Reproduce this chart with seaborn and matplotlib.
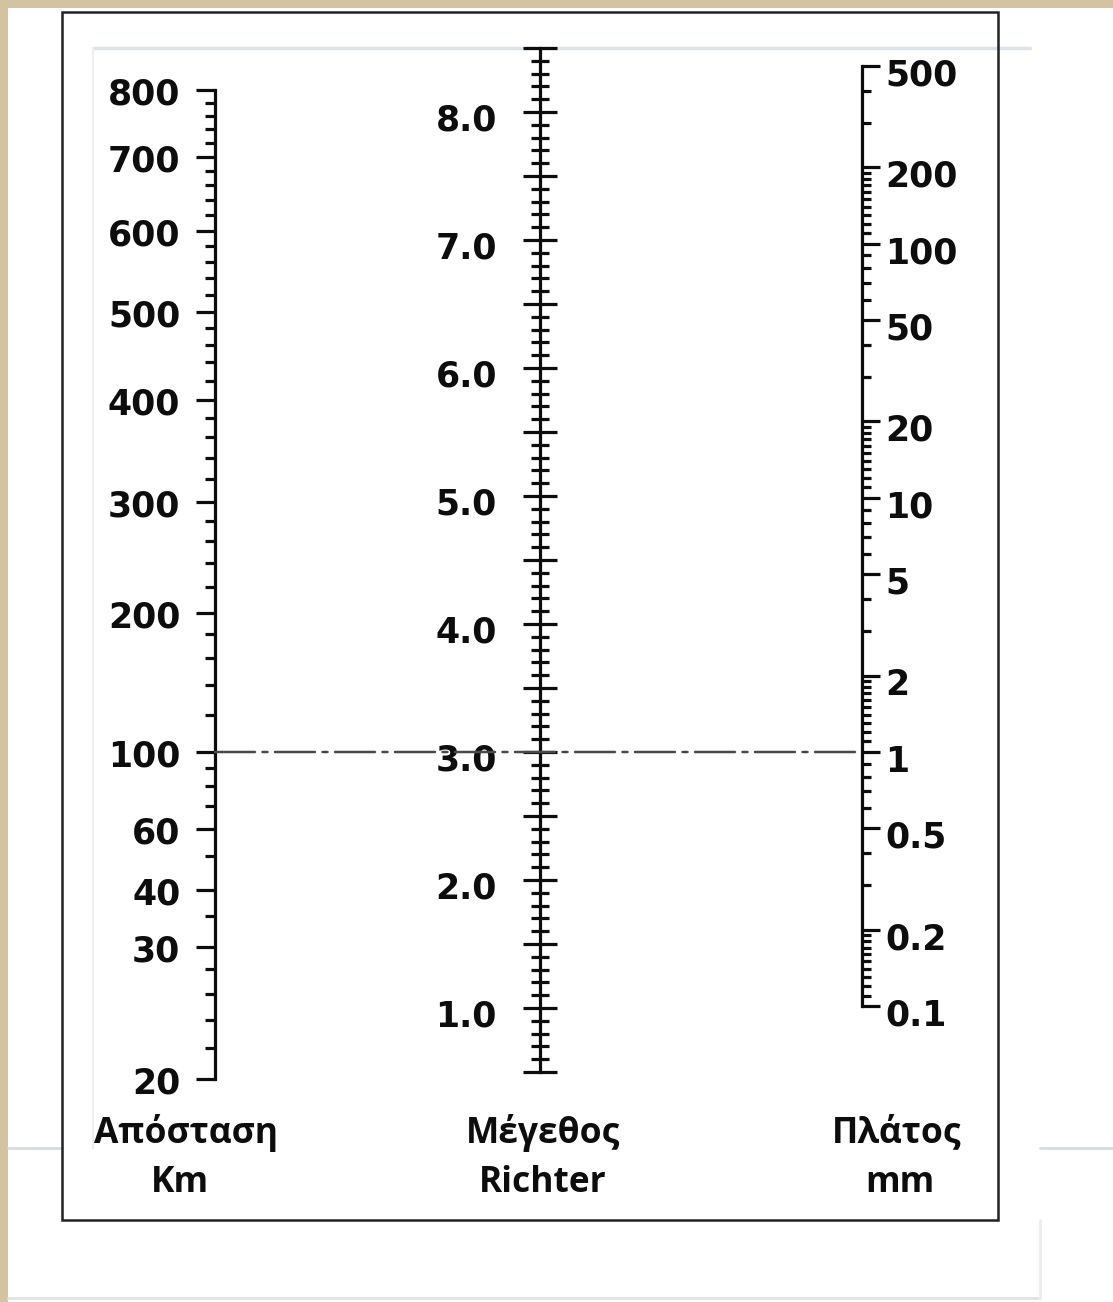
import numpy as np
import matplotlib
matplotlib.use("Agg")
import matplotlib.pyplot as plt
import matplotlib.ticker as mticker
from matplotlib.patches import ConnectionPatch, Rectangle
from matplotlib.lines import Line2D
from matplotlib.transforms import ScaledTranslation
import seaborn as sns

# ---------------- data ----------------
# Distance scale (km): labelled values and the magnitude-level they sit at
DIST_LABELS = [20, 30, 40, 60, 100, 200, 300, 400, 500, 600, 700, 800]
DIST_LEVEL = [0.445, 1.477, 1.922, 2.398, 3.0, 4.086, 4.953, 5.75, 6.4375, 7.07, 7.648, 8.17]
DIST_MINOR = [22, 24, 26, 28, 35, 50, 70, 80, 90, 120, 140, 160, 180,
              220, 240, 260, 280, 320, 340, 360, 380, 420, 440, 460, 480,
              520, 540, 560, 580, 620, 640, 660, 680, 720, 740, 760, 780]

# Richter magnitude scale
MAG_MIN, MAG_MAX = 0.5, 8.5
MAG_LABELS = [1.0, 2.0, 3.0, 4.0, 5.0, 6.0, 7.0, 8.0]
MAG_MAJOR_STEP = 0.5
MAG_MINOR_STEP = 0.1

# Amplitude scale (mm)
AMP_LABELS = [0.1, 0.2, 0.5, 1, 2, 5, 10, 20, 50, 100, 200, 500]
AMP_MINOR = [0.11, 0.12, 0.13, 0.14, 0.15, 0.16, 0.17, 0.18, 0.19, 0.3, 0.4,
             0.6, 0.7, 0.8, 0.9, 1.1, 1.2, 1.3, 1.4, 1.5, 1.6, 1.7, 1.8, 1.9, 3, 4,
             6, 7, 8, 9, 11, 12, 13, 14, 15, 16, 17, 18, 19, 30, 40,
             60, 70, 80, 90, 110, 120, 130, 140, 150, 160, 170, 180, 190, 300, 400]
AMP_LEVELS_PER_DECADE = 1.985

# Reference reading drawn as the dash-dot line
REF_DIST, REF_MAG, REF_AMP = 100, 3.0, 1

TITLES = ["Απόσταση", "Μέγεθος", "Πλάτος"]
UNITS = ["Km", "Richter", "mm"]

# ---------------- style ----------------
sns.set_theme(style="white")
plt.rcParams["font.family"] = ["DejaVu Sans"]
plt.rcParams["font.weight"] = "bold"
INK = "#0d0d0d"

W, H = 1113, 1302
fig = plt.figure(figsize=(W / 100, H / 100), dpi=100)
fig.patch.set_facecolor("#d4c3a0")

def fx(x):
    return x / W

def fy(y):
    return 1 - y / H

# page background + faint slide edges
fig.add_artist(Rectangle((fx(8), 0), 1 - fx(8), fy(8), transform=fig.transFigure,
                         facecolor="white", edgecolor="none", zorder=0))
fig.add_artist(Line2D([fx(93), fx(1030)], [fy(48), fy(48)], transform=fig.transFigure,
                      color="#dbe3ec", lw=2.5, zorder=0.5))
fig.add_artist(Line2D([fx(93), fx(93)], [fy(48), fy(1148)], transform=fig.transFigure,
                      color="#eeeeee", lw=1.5, zorder=0.5))
fig.add_artist(Line2D([fx(8), fx(62)], [fy(1148), fy(1148)], transform=fig.transFigure,
                      color="#d5dbe1", lw=2, zorder=0.5))
fig.add_artist(Line2D([fx(1040), fx(1113)], [fy(1148), fy(1148)], transform=fig.transFigure,
                      color="#d5dbe1", lw=2, zorder=0.5))
fig.add_artist(Line2D([fx(8), fx(1040)], [fy(1298), fy(1298)], transform=fig.transFigure,
                      color="#e2e2e2", lw=2, zorder=0.5))
fig.add_artist(Line2D([fx(1040), fx(1040)], [fy(1220), fy(1298)], transform=fig.transFigure,
                      color="#ececec", lw=2, zorder=0.5))
# framed box
fig.add_artist(Rectangle((fx(62), fy(1220)), fx(998 - 62), (1220 - 12) / H,
                         transform=fig.transFigure, fill=False,
                         edgecolor="#222222", lw=1.8, zorder=1))

# common vertical frame of the three scales (magnitude units)
VIEW_LO, VIEW_HI = 0.28125, 8.5625
ax_bottom, ax_height = fy(1100), (1100 - 40) / H
LW = 2.3

# ---------- distance scale (function scale built from read calibration) ----------
lx = np.log10(np.array(DIST_LABELS, dtype=float))
ly = np.array(DIST_LEVEL, dtype=float)

def _extrap(x, xs, ys):
    x = np.asarray(x, dtype=float)
    y = np.interp(x, xs, ys)
    lo_s = (ys[1] - ys[0]) / (xs[1] - xs[0])
    hi_s = (ys[-1] - ys[-2]) / (xs[-1] - xs[-2])
    y = np.where(x < xs[0], ys[0] + (x - xs[0]) * lo_s, y)
    y = np.where(x > xs[-1], ys[-1] + (x - xs[-1]) * hi_s, y)
    return y

def dist_fwd(d):
    with np.errstate(divide="ignore", invalid="ignore"):
        return _extrap(np.log10(np.maximum(np.asarray(d, dtype=float), 1e-9)), lx, ly)

def dist_inv(v):
    return 10 ** _extrap(v, ly, lx)

fmt_g = mticker.FuncFormatter(lambda v, p: f"{v:g}")

ax_l = fig.add_axes([fx(215), ax_bottom, fx(20), ax_height])
ax_l.set_yscale("function", functions=(dist_fwd, dist_inv))
ax_l.set_ylim(float(dist_inv(VIEW_LO)), float(dist_inv(VIEW_HI)))
ax_l.yaxis.set_major_locator(mticker.FixedLocator(DIST_LABELS))
ax_l.yaxis.set_minor_locator(mticker.FixedLocator(DIST_MINOR))
ax_l.yaxis.set_major_formatter(fmt_g)
ax_l.yaxis.set_minor_formatter(mticker.NullFormatter())
sns.despine(ax=ax_l, left=False, right=True, top=True, bottom=True)
ax_l.spines["left"].set_bounds(min(DIST_LABELS), max(DIST_LABELS))
ax_l.tick_params(axis="y", which="major", direction="out", length=14, width=LW,
                 pad=11, labelsize=25, left=True, color=INK, labelcolor=INK)
ax_l.tick_params(axis="y", which="minor", direction="out", length=7, width=LW,
                 left=True, color=INK)

# ---------- magnitude scale (linear) ----------
ax_m = fig.add_axes([fx(540), ax_bottom, fx(20), ax_height])
ax_m.set_ylim(VIEW_LO, VIEW_HI)
maj = np.round(np.arange(MAG_MIN, MAG_MAX + 1e-9, MAG_MAJOR_STEP), 1)
mnr = np.round(np.arange(MAG_MIN, MAG_MAX + 1e-9, MAG_MINOR_STEP), 1)
mnr = [v for v in mnr if v not in set(maj)]
ax_m.yaxis.set_major_locator(mticker.FixedLocator(maj))
ax_m.yaxis.set_minor_locator(mticker.FixedLocator(mnr))
ax_m.yaxis.set_major_formatter(mticker.FuncFormatter(
    lambda v, p: f"{v:.1f}" if any(abs(v - m) < 1e-6 for m in MAG_LABELS) else ""))
sns.despine(ax=ax_m, left=False, right=True, top=True, bottom=True)
ax_m.spines["left"].set_bounds(MAG_MIN, MAG_MAX)
ax_m.tick_params(axis="y", which="major", direction="inout", length=24, width=LW,
                 pad=19, labelsize=25, left=True, color=INK, labelcolor=INK)
ax_m.tick_params(axis="y", which="minor", direction="inout", length=12.5, width=LW,
                 left=True, color=INK)

# ---------- amplitude scale (log) ----------
def amp_at(level):
    return REF_AMP * 10 ** ((level - REF_MAG) / AMP_LEVELS_PER_DECADE)

ax_r = fig.add_axes([fx(842), ax_bottom, fx(20), ax_height])
ax_r.set_yscale("log")
ax_r.set_ylim(amp_at(VIEW_LO), amp_at(VIEW_HI))
ax_r.yaxis.set_major_locator(mticker.FixedLocator(AMP_LABELS))
ax_r.yaxis.set_minor_locator(mticker.FixedLocator(AMP_MINOR))
ax_r.yaxis.set_major_formatter(fmt_g)
ax_r.yaxis.set_minor_formatter(mticker.NullFormatter())
ax_r.yaxis.tick_right()
sns.despine(ax=ax_r, left=True, right=False, top=True, bottom=True)
ax_r.spines["right"].set_bounds(min(AMP_LABELS), max(AMP_LABELS))
ax_r.tick_params(axis="y", which="major", direction="out", length=13, width=LW,
                 pad=3.5, labelsize=25, right=True, left=False, color=INK, labelcolor=INK)
ax_r.tick_params(axis="y", which="minor", direction="out", length=6.5, width=LW,
                 right=True, left=False, color=INK)

for ax in (ax_l, ax_m, ax_r):
    ax.set_xlim(0, 1)
    ax.set_xticks([])
    ax.patch.set_alpha(0)
    ax.set_zorder(3)
    for s in ax.spines.values():
        s.set_linewidth(LW)
        s.set_color(INK)

# labels in the reference sit a few pixels below their ticks
for ax, dy in ((ax_l, 1), (ax_m, 5), (ax_r, 6)):
    nloc = len(ax.yaxis.get_majorticklocs())
    shift = ScaledTranslation(0, -dy / 100, fig.dpi_scale_trans)
    for t in ax.yaxis.get_major_ticks(nloc):
        for lab in (t.label1, t.label2):
            lab.set_transform(lab.get_transform() + shift)
            lab.set_fontweight("bold")

# ---------- reference reading (dash-dot) ----------
con = ConnectionPatch(xyA=(0, REF_DIST), coordsA=ax_l.transData,
                      xyB=(1, REF_AMP), coordsB=ax_r.transData,
                      color="#4a4a4a", lw=1.8, linestyle=(0, (16, 3, 2, 3)), zorder=5)
fig.add_artist(con)

# ---------- scale titles ----------
title_x = [186, 543, 897]
unit_x = [180, 543, 900]
for t, u, tx, ux in zip(TITLES, UNITS, title_x, unit_x):
    fig.text(fx(tx), fy(1133), t, ha="center", va="center", fontsize=25.5,
             family=["Open Sans", "DejaVu Sans"], weight="bold", color=INK)
    fig.text(fx(ux), fy(1183), u, ha="center", va="center", fontsize=25.5,
             family=["Open Sans", "DejaVu Sans"], weight="bold", color=INK)

fig.savefig("out.png", dpi=100, facecolor=fig.get_facecolor())
